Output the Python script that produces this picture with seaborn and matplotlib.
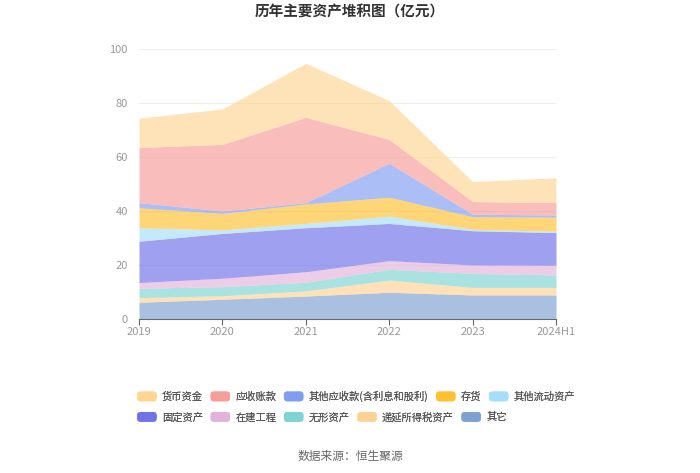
import matplotlib
matplotlib.use("Agg")
import matplotlib.pyplot as plt
import seaborn as sns
from matplotlib.patches import FancyBboxPatch, Patch
from matplotlib.legend_handler import HandlerPatch

# Data (亿元), stacked bottom -> top
years = ["2019", "2020", "2021", "2022", "2023", "2024H1"]
qita = [6.2, 7.3, 8.5, 9.9, 8.9, 8.9]           # 其它
diyan = [1.7, 1.3, 1.9, 4.5, 2.8, 2.8]          # 递延所得税资产
wuxing = [3.5, 3.4, 3.2, 4.0, 5.2, 4.6]         # 无形资产
zaijian = [2.1, 3.1, 3.9, 3.2, 3.1, 3.6]        # 在建工程
guding = [15.3, 16.6, 16.3, 13.8, 12.7, 12.1]   # 固定资产
qtliudong = [5.0, 1.3, 1.6, 2.7, 0.5, 0.5]      # 其他流动资产
cunhuo = [7.4, 6.1, 7.2, 7.0, 4.7, 5.2]         # 存货
qtyingshou = [1.9, 0.9, 0.5, 12.6, 0.9, 0.8]    # 其他应收款(含利息和股利)
yingshou = [20.4, 24.7, 31.6, 8.8, 4.7, 4.6]    # 应收账款
huobi = [10.9, 13.1, 20.0, 14.4, 7.4, 9.2]      # 货币资金

stack_names = ["其它", "递延所得税资产", "无形资产", "在建工程", "固定资产",
               "其他流动资产", "存货", "其他应收款(含利息和股利)", "应收账款", "货币资金"]
stack_vals = [qita, diyan, wuxing, zaijian, guding, qtliudong, cunhuo, qtyingshou, yingshou, huobi]
stack_colors = ["#7C9ED2", "#FFD192", "#7DD3D2", "#E2B1DA", "#6E6EE8",
                "#A5DEF9", "#FFC02E", "#7E9BF0", "#F79C97", "#FFD592"]

sns.set_theme(style="white")
plt.rcParams["font.family"] = ["Noto Sans CJK SC", "DejaVu Sans"]

fig = plt.figure(figsize=(7, 4.73), dpi=100)
ax = fig.add_axes([0.1986, 0.3256, 0.5957, 0.5708])

x = list(range(len(years)))
ax.stackplot(x, *stack_vals, colors=stack_colors, alpha=0.65, linewidth=0)

ax.set_xlim(0, len(years) - 1)
ax.set_ylim(0, 100)
ax.set_yticks([0, 20, 40, 60, 80, 100])
ax.set_xticks(x)
ax.set_xticklabels(years)
ax.grid(axis="y", color="#EEEEEE", linewidth=0.8)
ax.set_axisbelow(True)
for s in ["top", "right", "left"]:
    ax.spines[s].set_visible(False)
ax.spines["bottom"].set_color("#666666")
ax.spines["bottom"].set_linewidth(0.8)
ax.tick_params(axis="x", colors="#999999", labelsize=8, length=4, width=0.8, color="#666666", pad=2, direction="out", bottom=True)
ax.tick_params(axis="y", colors="#999999", labelsize=8, length=0, pad=8)

fig.text(0.5, 0.975, "历年主要资产堆积图（亿元）", ha="center", va="center",
         fontsize=10.5, fontweight="bold", color="#333333")
fig.text(0.5, 0.035, "数据来源：恒生聚源", ha="center", va="center",
         fontsize=8.5, color="#666666")


class RoundHandler(HandlerPatch):
    def create_artists(self, legend, orig_handle, xdescent, ydescent, width, height, fontsize, trans):
        p = FancyBboxPatch((-xdescent, -ydescent), width, height,
                           boxstyle="round,pad=0,rounding_size=2.5",
                           facecolor=orig_handle.get_facecolor(), edgecolor="none",
                           transform=trans)
        return [p]


legend_rows = [
    ["货币资金", "应收账款", "其他应收款(含利息和股利)", "存货", "其他流动资产"],
    ["固定资产", "在建工程", "无形资产", "递延所得税资产", "其它"],
]
color_of = dict(zip(stack_names, stack_colors))
row_y = [0.162, 0.118]
for names, yy in zip(legend_rows, row_y):
    handles = [Patch(facecolor=color_of[n], alpha=0.85, label=n) for n in names]
    leg = fig.legend(handles=handles, loc="center left", bbox_to_anchor=(0.193, yy),
                     ncol=5, frameon=False, fontsize=7.4, handlelength=1.9, handleheight=1.1,
                     columnspacing=0.75, handletextpad=0.5, borderaxespad=0, borderpad=0.2,
                     handler_map={Patch: RoundHandler()})
    for t in leg.get_texts():
        t.set_color("#555555")
    fig.add_artist(leg)

fig.savefig("out.png", dpi=100)
